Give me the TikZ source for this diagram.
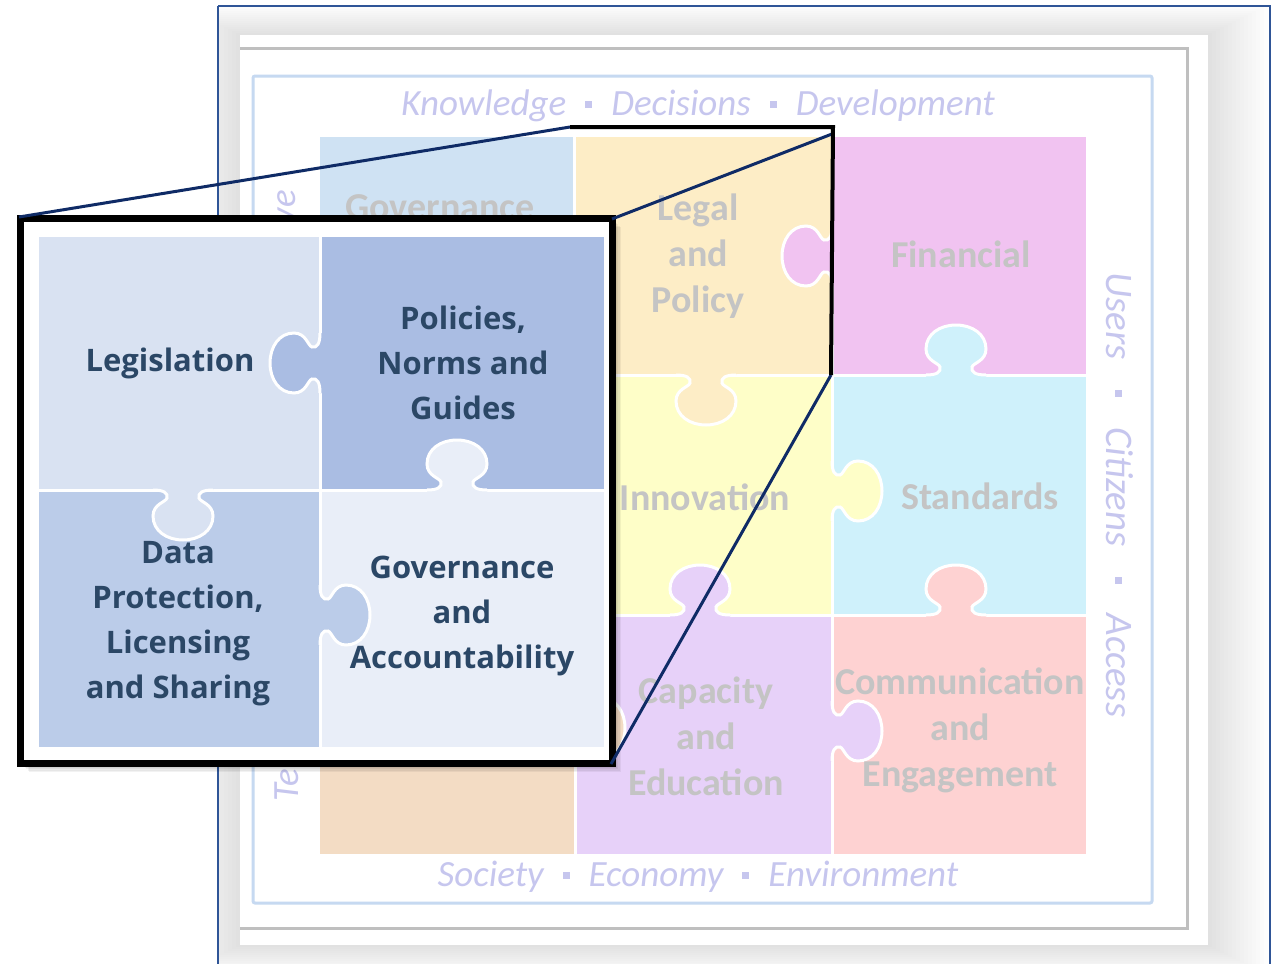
\documentclass[tikz,border=0pt]{standalone}
\usepackage{fontspec}
\setmainfont{Carlito}
\newfontfamily\insetfont{Open Sans}
\definecolor{frameblue}{HTML}{2F5597}
\definecolor{navyline}{HTML}{0F2B66}
\definecolor{lblue}{HTML}{C6D9F1}
\definecolor{stxt}{HTML}{C6C6EE}
\definecolor{ptxt}{HTML}{C4C4C4}
\definecolor{itxt}{HTML}{2B4766}
\definecolor{cGov}{HTML}{CFE2F3}
\definecolor{cLegal}{HTML}{FDEDC6}
\definecolor{cFin}{HTML}{F1C3F1}
\definecolor{cInn}{HTML}{FEFEC8}
\definecolor{cStd}{HTML}{CFF1FB}
\definecolor{cTan}{HTML}{F3DCC4}
\definecolor{cCap}{HTML}{E7D1F9}
\definecolor{cCom}{HTML}{FED2D2}
\definecolor{cLeg}{HTML}{D9E2F2}
\definecolor{cPol}{HTML}{AABDE3}
\definecolor{cDat}{HTML}{BBCCE9}
\definecolor{cGA}{HTML}{E9EEF8}
\newcommand\tabpath{(-30,0) .. controls (-19,0) and (-15,3) .. (-16,8) .. controls (-17,12) and (-30,14) .. (-30,26) .. controls (-30,41) and (-16,50) .. (0,50) .. controls (16,50) and (30,41) .. (30,26) .. controls (30,14) and (17,12) .. (16,8) .. controls (15,3) and (19,0) .. (30,0)}
\newcommand\jtab[3]{\begin{scope}[shift={#1},#2]\fill[#3] \tabpath -- (30,-4) -- (-30,-4) -- cycle; \draw[white,line width=3pt] \tabpath;\end{scope}}
\newcommand\piece[5]{\fill[#5] (#1+1.5,#2+1.5) rectangle (#3-1.5,#4-1.5);}
\newcommand\dotsep{\hspace{19pt}\raisebox{8pt}{\rule{7pt}{7pt}}\hspace{19pt}}
\newcommand\widesep{\hspace{30pt}\raisebox{8pt}{\rule{7pt}{7pt}}\hspace{30pt}}
\begin{document}
\begin{tikzpicture}[x=1pt,y=-1pt,
  piecetxt/.style={text=ptxt, font=\bfseries\fontsize{38}{46}\selectfont, align=center, inner sep=0pt},
  insettxt/.style={text=itxt, font=\insetfont\bfseries\fontsize{31}{45}\selectfont, align=center, inner sep=0pt},
  sidetxt/.style={text=stxt, font=\itshape\fontsize{37}{40}\selectfont, inner sep=0pt},
  zoomline/.style={navyline, line width=3pt},
  zoomedge/.style={black, line width=4pt},
  dirL/.style={x={(0pt,-1pt)}, y={(-1pt,0pt)}},
  dirR/.style={x={(0pt,-1pt)}, y={(1pt,0pt)}},
  dirU/.style={x={(1pt,0pt)}, y={(0pt,1pt)}},
  dirD/.style={x={(1pt,0pt)}, y={(0pt,-1pt)}}]
\useasboundingbox (0,0) rectangle (1278,964);
% outer soft shadow of the panel
\begin{scope}
\clip (219,7) rectangle (1269,964);
\foreach \i in {1,...,15}
  \fill[black, opacity=0.006] (240-4*\i, 35-2*\i) rectangle (1208+4*\i, 945+2*\i);
\end{scope}
\draw[frameblue, line width=1.5pt] (218,6) -- (1270,6) -- (1270,990) (218,6) -- (218,990);
\fill[white] (240,35) rectangle (1208,945);
\draw[black!25, line width=3pt] (240,48) -- (1187,48) -- (1187,928) -- (240,928);
\draw[lblue, line width=3pt, rounded corners=2pt] (253,76) rectangle (1152,903);
% side texts
\node[sidetxt] (topt) at (698,106) {Knowledge\dotsep Decisions\dotsep Development};
\node[sidetxt] (bott) at (698,877) {Society\dotsep Economy\dotsep Environment};
\node[sidetxt, font=\itshape\fontsize{39}{40}\selectfont, rotate=-90] (rightt) at (1120,495) {Users\widesep Citizens\widesep Access};
\node[sidetxt, rotate=90, anchor=west] (leftlow) at (287,802) {Te};
\node[sidetxt, rotate=90, anchor=east] (lefthigh) at (287,190) {ve};
% puzzle pieces
\piece{318}{135}{574}{375}{cGov}
\piece{574}{135}{832}{375}{cLegal}
\piece{832}{135}{1087}{375}{cFin}
\piece{574}{375}{832}{615}{cInn}
\piece{832}{375}{1087}{615}{cStd}
\piece{318}{615}{575}{855}{cTan}
\piece{575}{615}{832}{855}{cCap}
\piece{832}{615}{1087}{855}{cCom}
\jtab{(832,256)}{dirL}{cFin}
\jtab{(956,375)}{dirU}{cStd}
\jtab{(706,375)}{dirD}{cLegal}
\jtab{(832,491)}{dirR}{cInn}
\jtab{(700,615)}{dirU}{cCap}
\jtab{(956,615)}{dirU}{cCom}
\jtab{(832,731)}{dirR}{cCap}
\jtab{(575,728)}{dirR}{cTan}
\node[piecetxt] (gov) at (440,207) {Governance};
\node[piecetxt] (legal) at (698,256) {Legal\\and\\Policy};
\node[piecetxt] (fin) at (961,254) {Financial};
\node[piecetxt] (inn) at (705,497) {Innovation};
\node[piecetxt] (std) at (980,496) {Standards};
\node[piecetxt] (cap) at (706,736) {Capacity\\and\\Education};
\node[piecetxt] (com) at (960,730) {Communication\\and\\Engagement};
% inset
\foreach \i in {1,...,6}
  \fill[black, opacity=0.05] (20+1.5*\i,218+1.5*\i) rectangle (612+1.5*\i,763+1.5*\i);
\fill[white] (20,218) rectangle (612,763);
\piece{37}{235}{320}{490}{cLeg}
\piece{320}{235}{605}{490}{cPol}
\piece{37}{490}{320}{748}{cDat}
\piece{320}{490}{605}{748}{cGA}
\jtab{(320,363)}{dirL}{cPol}
\jtab{(457,490)}{dirU}{cGA}
\jtab{(183,490)}{dirD}{cLeg}
\jtab{(320,615)}{dirR}{cDat}
\draw[black, line width=7pt] (20,218) rectangle (612,763);
\node[insettxt] (legis) at (170,363) {Legislation};
\node[insettxt] (pol) at (463,363) {Policies,\\Norms and\\Guides};
\node[insettxt] (dat) at (178,624) {Data\\Protection,\\Licensing\\and Sharing};
\node[insettxt] (ga) at (462,616) {Governance\\and\\Accountability};
% zoom connectors
\coordinate (insTL) at (19,217);
\coordinate (insTR) at (612,219);
\coordinate (insBR) at (611,764);
\coordinate (zTL) at (570,127);
\coordinate (zTR) at (833,127);
\coordinate (zTRin) at (832,134);
\coordinate (zBR) at (831,375);
\draw[zoomline] (insTL) -- (zTL);
\draw[zoomline] (insTR) -- (zTRin);
\draw[zoomline] (zBR) -- (insBR);
\draw[zoomedge] (zTL) -- (zTR) -- (zBR);
\end{tikzpicture}
\end{document}
